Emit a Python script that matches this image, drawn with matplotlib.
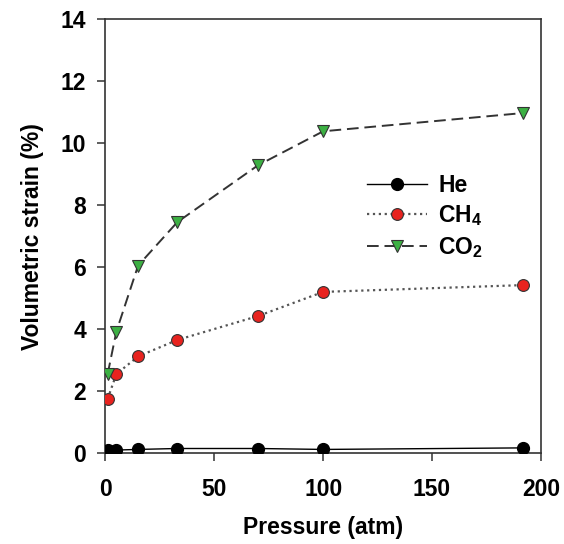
#!/usr/bin/env python3
"""Volumetric strain vs pressure for He, CH4 and CO2."""

import matplotlib

matplotlib.use("Agg")
import matplotlib.pyplot as plt

pressure = [1, 5, 15, 33, 70, 100, 192]
strain_he = [0.10, 0.10, 0.12, 0.15, 0.15, 0.12, 0.17]
strain_ch4 = [1.75, 2.55, 3.12, 3.65, 4.42, 5.20, 5.42]
strain_co2 = [2.55, 3.92, 6.05, 7.45, 9.28, 10.38, 10.97]

x_ticks = [0, 50, 100, 150, 200]
y_ticks = [0, 2, 4, 6, 8, 10, 12, 14]

plt.rcParams["font.family"] = ["Liberation Sans", "DejaVu Sans"]
plt.rcParams["font.weight"] = "bold"
plt.rcParams["mathtext.default"] = "regular"

fig = plt.figure(figsize=(5.64, 5.44), dpi=100)
ax = fig.add_axes([0.187, 0.167, 0.772, 0.798])

ax.plot(pressure, strain_he, "-", color="black", lw=1.0, marker="o",
        ms=8.5, mfc="black", mec="black", label="He", zorder=3)
ax.plot(pressure, strain_ch4, ":", color="#555555", lw=1.6, marker="o",
        ms=8.5, mfc="#e8231f", mec="#333333", mew=0.8, label="CH$_4$", zorder=3)
ax.plot(pressure, strain_co2, "--", color="#333333", lw=1.4, dashes=(6, 3),
        marker="v", ms=8.5, mfc="#3cb043", mec="#333333", mew=0.8,
        label="CO$_2$", zorder=3)

ax.set_xlim(0, 200)
ax.set_ylim(0, 14)
ax.set_xticks(x_ticks)
ax.set_yticks(y_ticks)
ax.tick_params(direction="out", length=6, width=1.1, labelsize=16.5,
               color="#333333")
ax.tick_params(axis="x", pad=12)
ax.tick_params(axis="y", pad=8)
for s in ax.spines.values():
    s.set_linewidth(1.2)
    s.set_color("#333333")

ax.set_xlabel("Pressure (atm)", fontsize=16.5, fontweight="bold", labelpad=11)
ax.set_ylabel("Volumetric strain (%)", fontsize=16.5, fontweight="bold", labelpad=12)

ax.legend(loc="upper left", bbox_to_anchor=(0.58, 0.665), frameon=False,
          fontsize=16.5, handlelength=2.6, handletextpad=0.5, labelspacing=0.3,
          borderaxespad=0)

fig.savefig("out.png", dpi=100, facecolor="white")
